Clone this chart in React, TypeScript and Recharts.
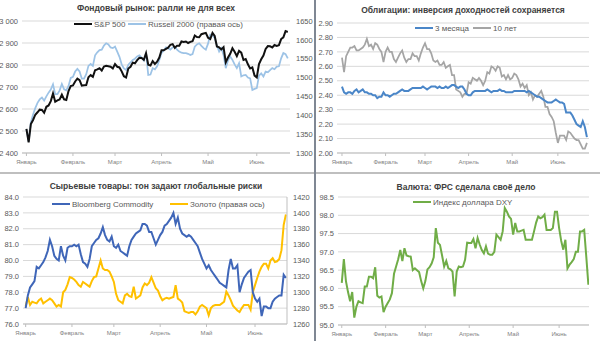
import React from 'react';
import { LineChart, Line, XAxis, YAxis, CartesianGrid } from 'recharts';

const monthNames = ['Январь', 'Февраль', 'Март', 'Апрель', 'Май', 'Июнь'];
// trading-day index where each month starts (2 Jan .. 21 Jun 2019)
const monthStarts = [0, 21, 40, 61, 82, 104];

const spxTicks = [2400, 2500, 2600, 2700, 2800, 2900, 3000];
const russellTicks = [1300, 1350, 1400, 1450, 1500, 1550, 1600, 1650];
const bondTicks = [2.0, 2.1, 2.2, 2.3, 2.4, 2.5, 2.6, 2.7, 2.8, 2.9];
const bcomTicks = [76, 77, 78, 79, 80, 81, 82, 83, 84];
const goldTicks = [1260, 1280, 1300, 1320, 1340, 1360, 1380, 1400, 1420];
const dxyTicks = [95, 95.5, 96, 96.5, 97, 97.5, 98, 98.5];

const spx = [
  2510, 2448, 2532, 2550, 2574, 2585, 2597, 2596, 2583, 2610, 2616, 2636, 2671, 2633, 2639, 2643, 2665, 2644, 2641, 2682, 2704,
  2707, 2725, 2738, 2731, 2706, 2708, 2709, 2744, 2754, 2746, 2776, 2780, 2785, 2775, 2793, 2796, 2794, 2792, 2784,
  2804, 2792, 2789, 2771, 2749, 2743, 2784, 2792, 2811, 2808, 2822, 2833, 2832, 2824, 2854, 2801, 2798, 2818, 2805, 2815, 2834,
  2867, 2867, 2873, 2879, 2892, 2895, 2878, 2888, 2888, 2907, 2905, 2907, 2900, 2905, 2908, 2934, 2927, 2926, 2940, 2943, 2946,
  2924, 2918, 2946, 2932, 2884, 2880, 2871, 2881, 2812, 2834, 2851, 2876, 2860, 2840, 2864, 2856, 2823, 2827, 2803, 2784, 2789, 2752,
  2744, 2804, 2826, 2843, 2873, 2886, 2885, 2880, 2891, 2887, 2890, 2918, 2926, 2954, 2950,
];

const russell = [
  1363, 1330, 1381, 1402, 1419, 1433, 1442, 1447, 1439, 1450, 1460, 1468, 1482, 1456, 1456, 1466, 1483, 1469, 1466, 1478, 1499,
  1502, 1516, 1523, 1516, 1497, 1497, 1509, 1531, 1536, 1531, 1559, 1567, 1573, 1574, 1585, 1591, 1588, 1580, 1578,
  1582, 1569, 1555, 1535, 1524, 1520, 1534, 1540, 1547, 1550, 1556, 1559, 1553, 1545, 1565, 1507, 1508, 1525, 1522, 1530, 1547,
  1565, 1572, 1580, 1578, 1574, 1580, 1582, 1574, 1569, 1566, 1565, 1565, 1563, 1560, 1562, 1582, 1588, 1591, 1584, 1578, 1574,
  1590, 1614, 1612, 1605, 1585, 1569, 1578, 1560, 1525, 1545, 1556, 1547, 1535, 1525, 1538, 1503, 1506, 1507, 1500, 1498, 1467, 1470,
  1472, 1505, 1511, 1503, 1516, 1514, 1520, 1525, 1522, 1529, 1530, 1551, 1565, 1562, 1551,
];

const t3m = [
  2.46, 2.42, 2.41, 2.42, 2.42, 2.41, 2.43, 2.44, 2.42, 2.43, 2.44, 2.42, 2.42, 2.41, 2.41, 2.40, 2.40, 2.38, 2.39, 2.39, 2.42,
  2.40, 2.40, 2.39, 2.40, 2.41, 2.41, 2.42, 2.43, 2.44, 2.43, 2.43, 2.43, 2.44, 2.45, 2.45, 2.45, 2.45, 2.45, 2.46,
  2.45, 2.44, 2.45, 2.46, 2.46, 2.46, 2.45, 2.46, 2.45, 2.45, 2.46, 2.45, 2.46, 2.47, 2.47, 2.46, 2.45, 2.46, 2.46, 2.44, 2.41,
  2.40, 2.40, 2.42, 2.43, 2.43, 2.43, 2.43, 2.43, 2.43, 2.44, 2.43, 2.42, 2.43, 2.43, 2.43, 2.44, 2.43, 2.43, 2.42, 2.42, 2.42,
  2.42, 2.43, 2.43, 2.43, 2.43, 2.43, 2.43, 2.42, 2.43, 2.42, 2.41, 2.40, 2.39, 2.39, 2.38, 2.37, 2.36, 2.35, 2.35, 2.35, 2.36, 2.37,
  2.36, 2.35, 2.35, 2.34, 2.28, 2.28, 2.28, 2.26, 2.23, 2.20, 2.19, 2.18, 2.22, 2.18, 2.11,
];

const t10y = [
  2.66, 2.56, 2.67, 2.70, 2.73, 2.73, 2.74, 2.71, 2.71, 2.72, 2.73, 2.75, 2.79, 2.74, 2.75, 2.72, 2.76, 2.75, 2.72, 2.70, 2.63,
  2.70, 2.73, 2.70, 2.70, 2.65, 2.63, 2.66, 2.69, 2.71, 2.66, 2.63, 2.65, 2.65, 2.69, 2.67, 2.67, 2.64, 2.69, 2.73,
  2.76, 2.72, 2.72, 2.69, 2.64, 2.63, 2.64, 2.61, 2.61, 2.63, 2.59, 2.60, 2.61, 2.54, 2.54, 2.44, 2.43, 2.42, 2.39, 2.41, 2.41,
  2.49, 2.48, 2.52, 2.51, 2.50, 2.52, 2.50, 2.47, 2.50, 2.56, 2.55, 2.60, 2.59, 2.57, 2.60, 2.59, 2.53, 2.54, 2.51, 2.54, 2.51,
  2.52, 2.55, 2.54, 2.51, 2.46, 2.48, 2.45, 2.47, 2.40, 2.42, 2.37, 2.40, 2.39, 2.41, 2.43, 2.39, 2.32, 2.32, 2.27, 2.25, 2.22, 2.14,
  2.07, 2.12, 2.12, 2.12, 2.09, 2.15, 2.14, 2.12, 2.10, 2.09, 2.09, 2.06, 2.03, 2.03, 2.07,
];

const bcom = [
  77.0, 77.8, 78.3, 78.5, 78.7, 79.6, 79.5, 79.7, 79.9, 80.2, 80.6, 81.3, 80.9, 80.3, 80.1, 80.0, 80.9, 80.3, 80.0, 80.8,
  80.9, 80.9, 81.0, 80.9, 81.0, 80.4, 79.9, 79.8, 79.6, 80.1, 80.9, 81.1, 81.3, 81.4, 81.7, 82.1, 81.6, 81.3, 81.2, 81.5,
  80.9, 80.8, 81.0, 80.6, 80.5, 80.4, 80.3, 80.9, 81.3, 81.5, 81.7, 81.8, 81.9, 82.3, 82.3, 82.2, 81.8, 81.8, 81.4, 81.0,
  81.3, 81.6, 81.8, 82.2, 82.3, 82.5, 82.7, 83.0, 82.3, 82.7, 82.0, 81.7, 81.6, 81.5, 81.6, 81.5, 81.3, 81.1, 80.9, 80.5,
  80.1, 79.8, 79.5, 79.7, 79.4, 79.2, 79.0, 78.8, 78.6, 78.5, 78.4, 78.3, 79.4, 80.1, 79.5, 79.5, 79.7, 78.0, 78.5, 78.9,
  79.1, 79.3, 79.4, 78.0, 77.6, 77.4, 77.6, 76.5, 77.1, 77.1, 77.0, 77.0, 77.4, 77.6, 77.7, 77.8, 77.8, 79.1, 78.9,
];

const gold = [
  1282, 1294, 1284, 1288, 1287, 1286, 1290, 1292, 1286, 1288, 1290, 1292, 1290, 1286, 1282, 1284, 1282, 1300, 1303, 1310,
  1319, 1318, 1316, 1313, 1309, 1307, 1313, 1311, 1309, 1307, 1314, 1319, 1320, 1330, 1340, 1330, 1328, 1328, 1326, 1320,
  1313, 1298, 1290, 1288, 1286, 1296, 1298, 1295, 1294, 1307, 1292, 1294, 1296, 1306, 1311, 1309, 1312, 1319, 1312, 1305,
  1302, 1295, 1290, 1292, 1293, 1292, 1293, 1294, 1309, 1292, 1290, 1287, 1276, 1275, 1274, 1275, 1275, 1272, 1276, 1282,
  1284, 1282, 1280, 1271, 1280, 1283, 1284, 1284, 1284, 1286, 1288, 1301, 1296, 1290, 1283, 1280, 1277, 1275, 1280, 1284,
  1284, 1284, 1278, 1300, 1309, 1318, 1326, 1332, 1336, 1336, 1330, 1340, 1343, 1338, 1339, 1342, 1353, 1385, 1398,
];

const dxy = [
  96.15, 96.8, 96.2, 95.9, 95.65, 95.9, 95.2, 95.5, 95.65, 95.62, 95.6, 96.05, 96.05, 96.32, 96.32, 96.28, 96.58, 95.8, 95.75, 95.78,
  95.35, 95.5, 95.6, 95.7, 95.87, 96.4, 96.6, 96.8, 97.05, 96.75, 97.1, 96.9, 96.88, 96.87, 96.5, 96.55, 96.5, 96.45, 96.2, 96.0,
  96.2, 96.52, 96.58, 96.68, 96.85, 97.65, 97.25, 97.19, 96.9, 96.6, 96.75, 96.55, 96.52, 96.46, 95.78, 96.46, 96.6, 96.58, 96.6, 96.78,
  97.25, 97.24, 97.24, 97.35, 97.1, 97.38, 97.2, 97.05, 96.96, 97.15, 96.95, 96.92, 96.92, 97.0, 97.47, 97.4, 97.33, 97.56, 98.2, 98.1,
  97.97, 97.9, 97.47, 97.79, 97.56, 97.56, 97.58, 97.6, 97.33, 97.33, 97.33, 97.33, 97.56, 97.8, 97.97, 97.92, 97.95, 98.02, 97.6, 97.6,
  97.6, 97.65, 98.1, 98.1, 97.65, 97.3, 97.06, 97.33, 96.55, 96.65, 96.72, 96.8, 97.0, 97.0, 97.56, 97.56, 97.6, 96.87, 96.1,
];

const stockRows = spx.map((v, i) => ({ d: i, spx: v, russell: russell[i] }));
const bondRows = t3m.map((v, i) => ({ d: i, t3m: v, t10y: t10y[i] }));
const commodityRows = bcom.map((v, i) => ({ d: i, bcom: v, gold: gold[i] }));
const dxyRows = dxy.map((v, i) => ({ d: i, dxy: v }));

const FONT = '"Liberation Sans", Arial, sans-serif';
const GRID = '#d9d9d9';
const AXIS = '#bfbfbf';
const yTick = { fontSize: 7.5, fill: '#595959', fontFamily: FONT };
const xTick = { fontSize: 6, fill: '#7f7f7f', fontFamily: FONT };

const monthLabel = (v: number) => monthNames[monthStarts.indexOf(v)] ?? '';
// non-breaking space so the tick text is not wrapped onto two lines
const thousands = (v: number) => `${Math.floor(v / 1000)}\u00A0${String(v % 1000).padStart(3, '0')}`;

function Title({ cx, cy, text }: { cx: number; cy: number; text: string }) {
  return (
    <div style={{
      position: 'absolute', left: cx - 150, top: cy - 6, width: 300, height: 12, lineHeight: '12px',
      textAlign: 'center', fontSize: 8.5, fontWeight: 'bold', color: '#404040', whiteSpace: 'nowrap',
    }}>
      {text}
    </div>
  );
}

function LegendItem({ x, y, color, label }: { x: number; y: number; color: string; label: string }) {
  return (
    <div style={{
      position: 'absolute', left: x, top: y - 6, height: 12, display: 'flex', alignItems: 'center',
      fontSize: 8, color: '#595959', whiteSpace: 'nowrap',
    }}>
      <span style={{ display: 'inline-block', width: 18, height: 2, background: color, marginRight: 2 }} />
      {label}
    </div>
  );
}

function MonthAxis({ domain, height }: { domain: [number, number]; height: number }) {
  return (
    <XAxis
      type="number"
      dataKey="d"
      domain={domain}
      ticks={monthStarts}
      interval={0}
      tickFormatter={monthLabel}
      tick={xTick}
      tickSize={3}
      tickMargin={4}
      tickLine={{ stroke: AXIS }}
      axisLine={{ stroke: AXIS }}
      height={height}
      allowDataOverflow
    />
  );
}

export default function App() {
  return (
    <div style={{ position: 'relative', width: 600, height: 341, background: '#fff', fontFamily: FONT, overflow: 'hidden' }}>
      <style>{'body{margin:0}'}</style>

      {/* Фондовый рынок */}
      <div style={{ position: 'absolute', left: 0, top: 0 }}>
        <LineChart width={315} height={172} data={stockRows} margin={{ top: 21, right: 0, bottom: 0, left: 0 }}>
          <CartesianGrid yAxisId="l" vertical={false} stroke={GRID} />
          {MonthAxis({ domain: [-2, 119], height: 19 })}
          <YAxis yAxisId="l" domain={[2400, 3000]} ticks={spxTicks} interval={0} tickFormatter={thousands}
            tick={yTick} axisLine={false} tickLine={false} tickSize={0} tickMargin={4} width={22} />
          <YAxis yAxisId="r" orientation="right" domain={[1300, 1650]} ticks={russellTicks} interval={0}
            tick={yTick} axisLine={false} tickLine={false} tickSize={0} tickMargin={6} width={25} />
          <Line yAxisId="r" dataKey="russell" stroke="#9dc3e6" strokeWidth={1.75} dot={false} isAnimationActive={false} />
          <Line yAxisId="l" dataKey="spx" stroke="#111111" strokeWidth={2} dot={false} isAnimationActive={false} />
        </LineChart>
      </div>

      {/* Облигации */}
      <div style={{ position: 'absolute', left: 316, top: 0 }}>
        <LineChart width={284} height={172} data={bondRows} margin={{ top: 23, right: 11, bottom: 0, left: 0 }}>
          <CartesianGrid vertical={false} stroke={GRID} />
          {MonthAxis({ domain: [-2.4, 119], height: 19 })}
          <YAxis domain={[2.0, 2.9]} ticks={bondTicks} interval={0} tickFormatter={(v: number) => v.toFixed(2)}
            tick={yTick} axisLine={false} tickLine={false} tickSize={0} tickMargin={4} width={21} />
          <Line dataKey="t10y" stroke="#a5a5a5" strokeWidth={1.75} dot={false} isAnimationActive={false} />
          <Line dataKey="t3m" stroke="#4a86c8" strokeWidth={2} dot={false} isAnimationActive={false} />
        </LineChart>
      </div>

      {/* Сырьевые товары */}
      <div style={{ position: 'absolute', left: 0, top: 174 }}>
        <LineChart width={315} height={167} data={commodityRows} margin={{ top: 23, right: 0, bottom: 0, left: 0 }}>
          <CartesianGrid yAxisId="l" vertical={false} stroke={GRID} />
          {MonthAxis({ domain: [-1.2, 118.5], height: 17 })}
          <YAxis yAxisId="l" domain={[76, 84]} ticks={bcomTicks} interval={0} tickFormatter={(v: number) => v.toFixed(1)}
            tick={yTick} axisLine={false} tickLine={false} tickSize={0} tickMargin={4} width={23} />
          <YAxis yAxisId="r" orientation="right" domain={[1260, 1420]} ticks={goldTicks} interval={0}
            tick={yTick} axisLine={{ stroke: AXIS }} tickLine={false} tickSize={0} tickMargin={6} width={28} />
          <Line yAxisId="r" dataKey="gold" stroke="#ffc000" strokeWidth={2} dot={false} isAnimationActive={false} />
          <Line yAxisId="l" dataKey="bcom" stroke="#3f66b8" strokeWidth={2} dot={false} isAnimationActive={false} />
        </LineChart>
      </div>

      {/* Валюта */}
      <div style={{ position: 'absolute', left: 316, top: 174 }}>
        <LineChart width={284} height={167} data={dxyRows} margin={{ top: 23, right: 11, bottom: 0, left: 0 }}>
          <CartesianGrid vertical={false} stroke={GRID} />
          {MonthAxis({ domain: [-1.8, 118.3], height: 16 })}
          <YAxis domain={[95, 98.5]} ticks={dxyTicks} interval={0} tickFormatter={(v: number) => v.toFixed(1)}
            tick={yTick} axisLine={false} tickLine={false} tickSize={0} tickMargin={4} width={22} />
          <Line dataKey="dxy" stroke="#70ad47" strokeWidth={2} dot={false} isAnimationActive={false} />
        </LineChart>
      </div>

      {/* separators */}
      <div style={{ position: 'absolute', left: 0, top: 172, width: 600, height: 2, background: '#bfbfbf' }} />
      <div style={{ position: 'absolute', left: 314, top: 0, width: 1.5, height: 341, background: '#7f8793' }} />

      <Title cx={156} cy={8} text="Фондовый рынок: ралли не для всех" />
      <LegendItem x={74} y={24} color="#111111" label="S&P 500" />
      <LegendItem x={128} y={24} color="#9dc3e6" label="Russell 2000 (правая ось)" />

      <Title cx={463} cy={10} text="Облигации: инверсия доходностей сохраняется" />
      <LegendItem x={415} y={28} color="#4a86c8" label="3 месяца" />
      <LegendItem x={473} y={28} color="#a5a5a5" label="10 лет" />

      <Title cx={156} cy={186} text="Сырьевые товары: тон задают глобальные риски" />
      <LegendItem x={52} y={204} color="#3f66b8" label="Bloomberg Commodity" />
      <LegendItem x={170} y={204} color="#ffc000" label="Золото (правая ось)" />

      <Title cx={466} cy={187} text="Валюта: ФРС сделала своё дело" />
      <LegendItem x={413} y={202} color="#70ad47" label="Индекс доллара DXY" />
    </div>
  );
}
